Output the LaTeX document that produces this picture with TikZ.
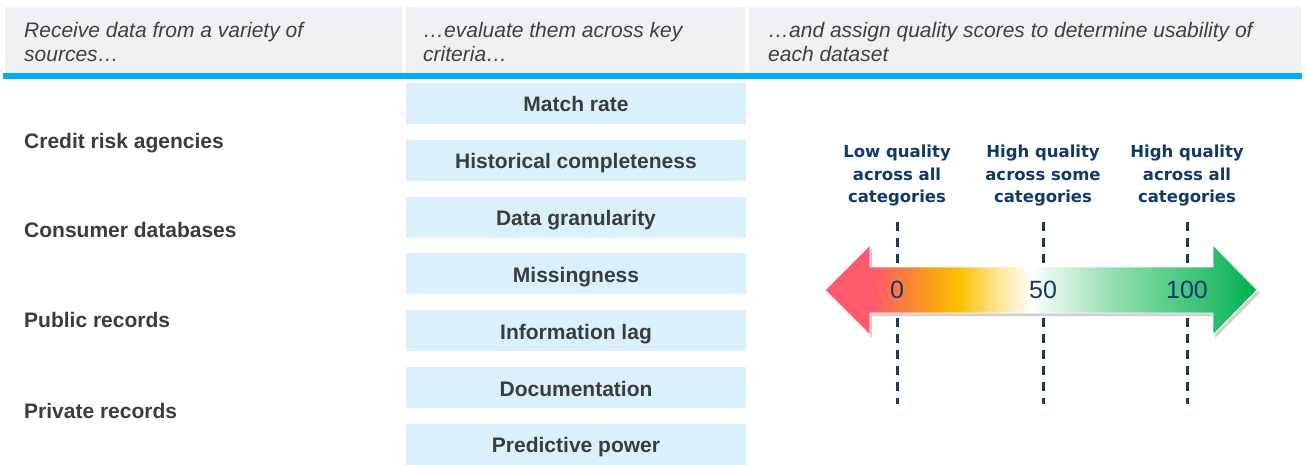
\documentclass[tikz,border=0pt]{standalone}
\usepackage{fontspec}
\setmainfont{Liberation Sans}
\newfontfamily\dvs{DejaVu Sans}
\definecolor{hdrgray}{RGB}{238,241,245}
\definecolor{hdrtext}{RGB}{64,64,64}
\definecolor{barblue}{RGB}{0,174,239}
\definecolor{boxfill}{RGB}{218,241,252}
\definecolor{darktext}{RGB}{60,60,60}
\definecolor{navy}{RGB}{17,58,105}
\definecolor{qred}{RGB}{255,90,110}
\definecolor{qorange}{RGB}{248,150,30}
\definecolor{qgold}{RGB}{255,192,0}
\definecolor{qpale}{RGB}{254,230,150}
\definecolor{qpalegreen}{RGB}{236,248,240}
\definecolor{qlightgreen}{RGB}{140,220,170}
\definecolor{qgreen}{RGB}{0,176,80}
\pgfdeclarehorizontalshading{qualshade}{100bp}{color(0bp)=(qred); color(25bp)=(qred); color(30.5bp)=(qred); color(36.5bp)=(qorange); color(40.5bp)=(qgold); color(45bp)=(qpale); color(49bp)=(white); color(50.5bp)=(qpalegreen); color(59bp)=(qlightgreen); color(75bp)=(qgreen); color(100bp)=(qgreen)}
\tikzset{
  hdrbox/.style={fill=hdrgray, draw=none},
  hdrlabel/.style={anchor=north west, inner sep=0pt, align=left, text=hdrtext,
    font=\fontsize{21}{24}\selectfont\itshape},
  srclabel/.style={anchor=base west, inner sep=0pt, text=darktext,
    font=\fontsize{21}{24}\selectfont\bfseries},
  critbox/.style={fill=boxfill, draw=none, minimum width=340pt, minimum height=41pt,
    inner sep=0pt, text height=20pt, text depth=3pt, text=darktext,
    font=\fontsize{21}{24}\selectfont\bfseries},
  qlabel/.style={anchor=north, inner sep=0pt, align=center, text=navy,
    font=\dvs\bfseries\fontsize{16.5}{22.5}\selectfont},
  qnum/.style={inner sep=0pt, text=navy, font=\fontsize{25}{28}\selectfont},
  tick/.style={draw=navy, line width=3pt, dash pattern=on 9pt off 7pt},
}
\begin{document}
\begin{tikzpicture}[x=1pt,y=-1pt]
\useasboundingbox (0,0) rectangle (1306,465);
% header
\fill[hdrbox] (5,7) rectangle (402,73);
\fill[hdrbox] (406,7) rectangle (745,73);
\fill[hdrbox] (749,7) rectangle (1301,73);
\fill[barblue] (3,73) rectangle (1302,79);
\node[hdrlabel] (h1) at (24,22) {Receive data from a variety of\\sources…};
\node[hdrlabel] (h2) at (423,22) {…evaluate them across key\\criteria…};
\node[hdrlabel] (h3) at (768,22) {…and assign quality scores to determine usability of\\each dataset};
% sources
\node[srclabel] (s1) at (24,148.5) {Credit risk agencies};
\node[srclabel] (s2) at (24,237.5) {Consumer databases};
\node[srclabel] (s3) at (24,327.5) {Public records};
\node[srclabel] (s4) at (24,418.5) {Private records};
% criteria
\node[critbox] (c1) at (576,103.5) {Match rate};
\node[critbox] (c2) at (576,160.3) {Historical completeness};
\node[critbox] (c3) at (576,217.1) {Data granularity};
\node[critbox] (c4) at (576,273.9) {Missingness};
\node[critbox] (c5) at (576,330.7) {Information lag};
\node[critbox] (c6) at (576,387.5) {Documentation};
\node[critbox] (c7) at (576,444.3) {Predictive power};
% quality labels
\node[qlabel] (q1) at (897,145) {Low quality\\across all\\categories};
\node[qlabel] (q2) at (1043,145) {High quality\\across some\\categories};
\node[qlabel] (q3) at (1187,145) {High quality\\across all\\categories};
% dashed ticks
\coordinate (t1a) at (897,222); \coordinate (t1b) at (897,404);
\coordinate (t2a) at (1043,222); \coordinate (t2b) at (1043,404);
\coordinate (t3a) at (1187,222); \coordinate (t3b) at (1187,404);
\draw[tick] (t1a) -- (t1b);
\draw[tick] (t2a) -- (t2b);
\draw[tick] (t3a) -- (t3b);
% arrow shadow
\fill[black, opacity=0.18] (827,293) -- (872,248) -- (872,270) -- (1215,270) -- (1215,248) -- (1260,293) -- (1215,338) -- (1215,316) -- (872,316) -- (872,338) -- cycle;
% arrow
\path[shading=qualshade, draw=white, line width=0.8pt] (825,290) -- (870,245) -- (870,267) -- (1213,267) -- (1213,245) -- (1257,290) -- (1213,335) -- (1213,313) -- (870,313) -- (870,335) -- cycle;
% numbers
\node[qnum] (n0) at (897,290) {0};
\node[qnum] (n50) at (1043,290) {50};
\node[qnum] (n100) at (1187,290) {100};
\end{tikzpicture}
\end{document}
